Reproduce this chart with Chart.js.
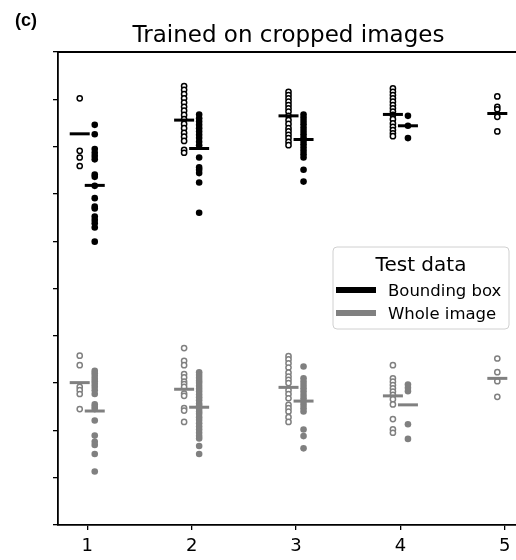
<!DOCTYPE html>
<html>
<head>
<meta charset="utf-8">
<script src="https://cdn.jsdelivr.net/npm/chart.js@4.4.0/dist/chart.umd.min.js"></script>
<style>
  body { margin: 0; background: #fff; }
  canvas { display: block; }
</style>
</head>
<body>
<canvas id="strip" width="516" height="560"></canvas>
<script>
// categories on the x axis and tick positions on the (unlabelled) y axis
const categories = [1, 2, 3, 4, 5];
const yTicks = [0, 1, 2, 3, 4, 5, 6, 7, 8, 9, 10];

// Bounding box test data: hollow = one group, filled = other group
const boxOpen = [
  [9.02, 7.91, 7.77, 7.59],
  [9.28, 9.20, 9.11, 9.02, 8.93, 8.84, 8.76, 8.67, 8.58, 8.48, 8.39, 8.29, 8.21, 8.12, 7.93, 7.87],
  [9.16, 9.09, 9.02, 8.95, 8.88, 8.81, 8.74, 8.65, 8.56, 8.48, 8.39, 8.32, 8.25, 8.18, 8.10, 8.03],
  [9.23, 9.16, 9.09, 9.02, 8.95, 8.88, 8.81, 8.74, 8.67, 8.58, 8.49, 8.42, 8.35, 8.28, 8.22],
  [9.06, 8.84, 8.79, 8.63, 8.32]
];
const boxOpenMean = [8.27, 8.56, 8.65, 8.68, 8.70];

const boxFilled = [
  [8.46, 8.26, 7.95, 7.87, 7.80, 7.73, 7.41, 7.36, 7.17, 6.91, 6.73, 6.69, 6.52, 6.45, 6.38, 6.29, 5.99],
  [8.68, 8.60, 8.53, 8.46, 8.39, 8.32, 8.25, 8.18, 8.10, 8.03, 7.77, 7.56, 7.51, 7.44, 7.24, 6.60],
  [8.68, 8.61, 8.54, 8.47, 8.40, 8.33, 8.26, 8.19, 8.12, 8.05, 7.98, 7.91, 7.84, 7.77, 7.51, 7.26],
  [8.65, 8.44, 8.18],
  []
];
const boxFilledMean = [7.18, 7.96, 8.15, 8.44, null];

// Whole image test data
const wholeOpen = [
  [3.58, 3.38, 2.92, 2.85, 2.77, 2.45],
  [3.74, 3.47, 3.38, 3.19, 3.12, 3.03, 2.98, 2.92, 2.78, 2.73, 2.47, 2.42, 2.18],
  [3.57, 3.50, 3.42, 3.33, 3.22, 3.14, 3.07, 3.00, 2.85, 2.77, 2.68, 2.54, 2.47, 2.40, 2.28, 2.18],
  [3.38, 3.10, 3.03, 2.96, 2.89, 2.82, 2.75, 2.66, 2.55, 2.24, 2.02, 1.95],
  [3.52, 3.23, 3.04, 2.71]
];
const wholeOpenMean = [3.01, 2.87, 2.91, 2.73, 3.10];

const wholeFilled = [
  [3.26, 3.21, 3.15, 3.09, 3.04, 2.98, 2.92, 2.85, 2.77, 2.55, 2.50, 2.45, 2.21, 1.89, 1.76, 1.69, 1.50, 1.13],
  [3.23, 3.17, 3.11, 3.05, 3.00, 2.94, 2.88, 2.82, 2.76, 2.70, 2.64, 2.57, 2.52, 2.46, 2.40, 2.35, 2.28, 2.22, 2.15, 2.08, 2.02, 1.95, 1.88, 1.83, 1.67, 1.50],
  [3.35, 3.10, 3.03, 2.96, 2.89, 2.82, 2.75, 2.68, 2.61, 2.54, 2.47, 2.40, 2.02, 1.88, 1.62],
  [2.97, 2.90, 2.83, 2.13, 1.82],
  []
];
const wholeFilledMean = [2.41, 2.49, 2.62, 2.54, null];

const BLACK = '#000000';
const GRAY = '#808080';
const dx = 0.072; // hollow strip left of the category, filled strip right

function strip(groups, shift) {
  return groups.flatMap((vals, i) => vals.map(v => ({ x: categories[i] + shift, y: v })));
}
function meanMarks(vals, shift) {
  return vals.map((v, i) => v == null ? null : { x: categories[i] + shift, y: v }).filter(Boolean);
}

function hollow(data, color) {
  return { data, pointStyle: 'circle', pointRadius: 2.6, borderWidth: 1.5,
           borderColor: color, backgroundColor: '#ffffff', order: 2 };
}
function filled(data, color) {
  return { data, pointStyle: 'circle', pointRadius: 3.3, borderWidth: 0,
           borderColor: color, backgroundColor: color, order: 2 };
}
function meanLine(data, color) {
  return { data, pointStyle: 'line', pointRadius: 10, borderWidth: 3,
           borderColor: color, backgroundColor: color, order: 1 };
}

const datasets = [
  hollow(strip(boxOpen, -dx), BLACK),
  filled(strip(boxFilled, dx), BLACK),
  hollow(strip(wholeOpen, -dx), GRAY),
  filled(strip(wholeFilled, dx), GRAY),
  meanLine(meanMarks(boxOpenMean, -dx), BLACK),
  meanLine(meanMarks(boxFilledMean, dx), BLACK),
  meanLine(meanMarks(wholeOpenMean, -dx), GRAY),
  meanLine(meanMarks(wholeFilledMean, dx), GRAY)
];

// panel letter, title, top spine and the legend box
const decorations = {
  id: 'decorations',
  afterDraw(chart) {
    const { ctx, chartArea } = chart;
    ctx.save();
    ctx.strokeStyle = '#000';
    ctx.lineWidth = 1.8;
    ctx.beginPath();
    ctx.moveTo(chartArea.left, chartArea.top);
    ctx.lineTo(chart.width, chartArea.top);
    ctx.stroke();

    ctx.fillStyle = '#000';
    ctx.textBaseline = 'alphabetic';
    ctx.font = 'bold 18px "Liberation Sans"';
    ctx.textAlign = 'left';
    ctx.fillText('(c)', 15, 26);

    ctx.font = '23px "DejaVu Sans"';
    ctx.textAlign = 'center';
    ctx.fillText('Trained on cropped images', 288.5, 42);

    // legend
    const lx = 333, ly = 247, lw = 176, lh = 82;
    ctx.beginPath();
    ctx.roundRect(lx, ly, lw, lh, 4);
    ctx.fillStyle = 'rgba(255,255,255,0.8)';
    ctx.fill();
    ctx.strokeStyle = '#d0d0d0';
    ctx.lineWidth = 1;
    ctx.stroke();

    ctx.fillStyle = '#000';
    ctx.font = '20px "DejaVu Sans"';
    ctx.fillText('Test data', lx + lw / 2, 271);

    const entries = [['Bounding box', BLACK, 290, 296], ['Whole image', GRAY, 313, 319]];
    ctx.textAlign = 'left';
    ctx.font = '16.5px "DejaVu Sans"';
    entries.forEach(([text, color, yLine, yText]) => {
      ctx.strokeStyle = color;
      ctx.lineWidth = 6;
      ctx.beginPath();
      ctx.moveTo(336, yLine);
      ctx.lineTo(376, yLine);
      ctx.stroke();
      ctx.fillStyle = '#000';
      ctx.fillText(text, 388, yText);
    });
    ctx.restore();
  }
};

new Chart(document.getElementById('strip'), {
  type: 'scatter',
  data: { datasets },
  options: {
    responsive: false,
    devicePixelRatio: 1,
    animation: false,
    layout: { autoPadding: false, padding: { top: 52, right: 0, left: 0, bottom: 0 } },
    plugins: { legend: { display: false }, tooltip: { enabled: false }, title: { display: false } },
    scales: {
      x: {
        type: 'linear',
        min: 0.72,
        max: 5.107,
        afterBuildTicks: s => { s.ticks = categories.map(v => ({ value: v })); },
        afterFit: s => { s.height = 35; s.paddingLeft = 0; s.paddingRight = 0; },
        grid: { drawOnChartArea: false, drawTicks: true, tickLength: 5, color: '#000', lineWidth: 1.3 },
        border: { display: true, color: '#000', width: 1.8 },
        ticks: { color: '#000', font: { family: 'DejaVu Sans', size: 18 }, padding: 6, maxRotation: 0 }
      },
      y: {
        type: 'linear',
        min: 0,
        max: 10,
        afterBuildTicks: s => { s.ticks = yTicks.map(v => ({ value: v })); },
        afterFit: s => { s.width = 58; },
        grid: { drawOnChartArea: false, drawTicks: true, tickLength: 5, color: '#000', lineWidth: 1.3 },
        border: { display: true, color: '#000', width: 1.8 },
        ticks: { callback: () => '' }
      }
    }
  },
  plugins: [decorations]
});
</script>
</body>
</html>
